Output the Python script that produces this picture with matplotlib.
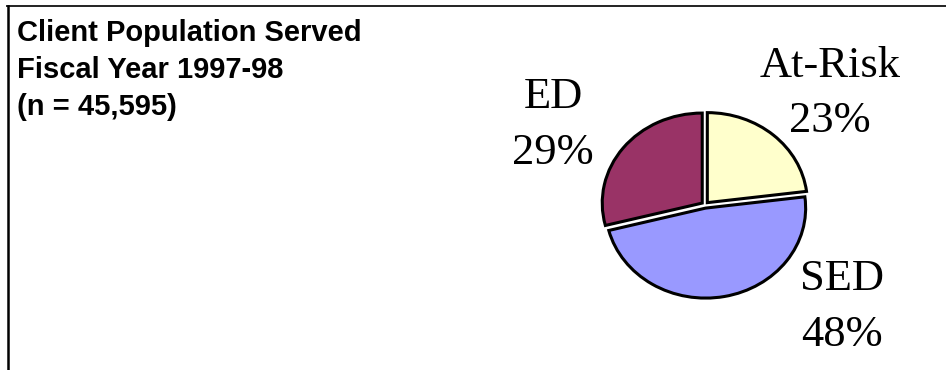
"""Client population served, FY 1997-98: exploded pie with serif labels."""
import matplotlib
matplotlib.use("Agg")
import matplotlib.pyplot as plt
from matplotlib.lines import Line2D

# data
CATEGORIES = ["At-Risk", "SED", "ED"]
PERCENTS = [23, 48, 29]
COLORS = ["#FFFFCC", "#9999FF", "#993366"]
TITLE_LINES = ["Client Population Served", "Fiscal Year 1997-98", "(n = 45,595)"]

W, H = 946, 370
fig = plt.figure(figsize=(W / 100, H / 100), dpi=100, facecolor="white")

# pie axes: centre at (705, 205) px, 100 px per unit across, 90 px per unit down
cx, cy = 705, 205
ux, uy = 100, 90
lim = 1.3
ax = fig.add_axes([(cx - lim * ux) / W, (H - cy - lim * uy) / H,
                   2 * lim * ux / W, 2 * lim * uy / H])
ax.pie(PERCENTS, colors=COLORS, startangle=90, counterclock=False,
       explode=[0.035] * len(PERCENTS),
       wedgeprops=dict(edgecolor="black", linewidth=2.2))
ax.set_aspect("auto")
ax.set_xlim(-lim, lim)
ax.set_ylim(-lim, lim)
ax.axis("off")

# label positions in pixels (centre x, top y), same order as CATEGORIES
label_pos = [(830, 46), (842, 259), (553, 77)]
for name, pct, (px, py) in zip(CATEGORIES, PERCENTS, label_pos):
    fig.text(px / W, 1 - py / H, f"{name}\n{pct}%", ha="center", va="top",
             multialignment="center", family="Liberation Serif", fontsize=32,
             linespacing=1.5, color="black")

fig.text(17 / W, 1 - 19 / H, "\n".join(TITLE_LINES), ha="left", va="top",
         family="Liberation Sans", fontweight="bold", fontsize=21,
         linespacing=1.4, color="black")

# frame: top and left edges only
fig.add_artist(Line2D([7 / W, 1], [1 - 6 / H, 1 - 6 / H], transform=fig.transFigure,
                      color="#222222", linewidth=1.4))
fig.add_artist(Line2D([7.5 / W, 7.5 / W], [0, 1 - 6 / H], transform=fig.transFigure,
                      color="black", linewidth=1.8))

fig.savefig("out.png", dpi=100, facecolor="white")
